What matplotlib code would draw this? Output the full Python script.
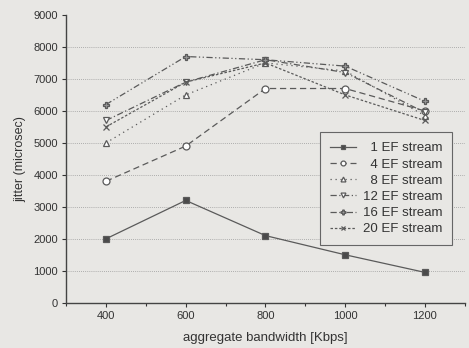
import matplotlib
matplotlib.use("Agg")
import matplotlib.pyplot as plt
from matplotlib.ticker import MultipleLocator

plt.rcParams["font.family"] = ["Liberation Sans", "DejaVu Sans"]

# ===== Data =====
bandwidth = [400, 600, 800, 1000, 1200]
ef1 = [2000, 3200, 2100, 1500, 950]
ef4 = [3800, 4900, 6700, 6700, 6000]
ef8 = [5000, 6500, 7500, 7250, 5850]
ef12 = [5700, 6900, 7600, 7200, 5950]
ef16 = [6200, 7700, 7600, 7400, 6300]
ef20 = [5500, 6900, 7500, 6500, 5700]
labels = ["1 EF stream", "4 EF stream", "8 EF stream",
          "12 EF stream", "16 EF stream", "20 EF stream"]

series = [ef1, ef4, ef8, ef12, ef16, ef20]
styles = [
    dict(ls="-", marker="s", mfc="#4a4a4a"),
    dict(ls=(0, (5, 3)), marker="o", mfc="white"),
    dict(ls=(0, (1, 3)), marker="^", mfc="white"),
    dict(ls=(0, (5, 2, 1, 2)), marker="v", mfc="white"),
    dict(ls=(0, (5, 2, 1, 2, 1, 2)), marker="P", mfc="#9a9a9a"),
    dict(ls=(0, (2, 1.5)), marker="x", mfc="white"),
]

bg = "#e8e7e4"
line_col = "#5a5a5a"

fig = plt.figure(figsize=(4.69, 3.48), dpi=100, facecolor=bg)
ax = fig.add_axes([0.141, 0.130, 0.850, 0.827], facecolor=bg)

for vals, lab, st in zip(series, labels, styles):
    # figure space pads single-digit labels so the text lines up on the right
    ax.plot(bandwidth, vals, color=line_col, lw=0.9, ls=st["ls"],
            marker=st["marker"], ms=5, mfc=st["mfc"], mec=line_col,
            mew=0.9, label=lab.rjust(12, "\u2007"))

ax.set_xlim(300, 1300)
ax.set_ylim(0, 9000)
ax.xaxis.set_major_locator(MultipleLocator(200))
ax.xaxis.set_minor_locator(MultipleLocator(100))
ax.yaxis.set_major_locator(MultipleLocator(1000))

for v in range(1000, 9000, 1000):
    ax.axhline(v, color="#9a9a9a", lw=0.6, ls=(0, (1, 1.5)), zorder=0)

for s in ["top", "right"]:
    ax.spines[s].set_visible(False)
for s in ["left", "bottom"]:
    ax.spines[s].set_color("#444444")
    ax.spines[s].set_linewidth(1.0)

ax.tick_params(axis="both", which="major", labelsize=8, colors="#333333",
               length=3, width=0.8, direction="out", pad=3)
ax.tick_params(axis="x", which="minor", length=2, width=0.8, color="#333333")

ax.set_xlabel("aggregate bandwidth [Kbps]", fontsize=9.5, color="#333333", labelpad=8)
ax.set_ylabel("jitter (microsec)", fontsize=9, color="#333333", labelpad=5)

leg = ax.legend(loc="upper right", bbox_to_anchor=(0.985, 0.615), fontsize=9.5,
                frameon=True, fancybox=False, edgecolor="#666666",
                facecolor=bg, framealpha=1, handlelength=2.0,
                handletextpad=0.5, borderpad=0.75, labelspacing=0.3,
                markerscale=0.7)
leg.get_frame().set_linewidth(0.8)
for t in leg.get_texts():
    t.set_color("#333333")

fig.savefig("out.png", dpi=100, facecolor=bg)
